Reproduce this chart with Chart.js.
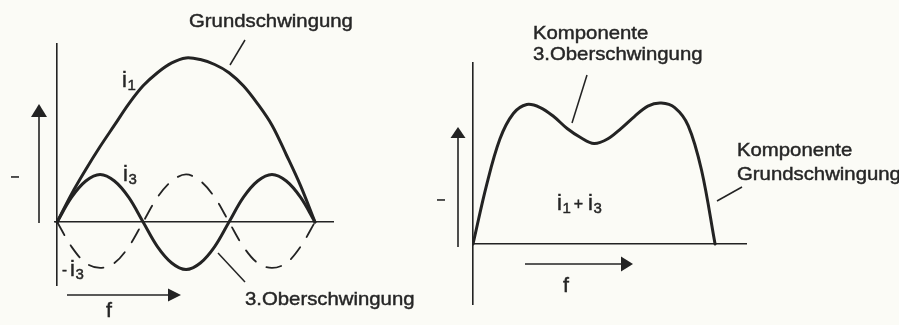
<!DOCTYPE html>
<html>
<head>
<meta charset="utf-8">
<title>Grundschwingung und 3. Oberschwingung</title>
<script src="https://cdn.jsdelivr.net/npm/chart.js@4.4.0/dist/chart.umd.min.js"></script>
<style>
    html, body { margin: 0; padding: 0; background: #fbfbf6; }
    #sheet { position: relative; width: 899px; height: 325px; overflow: hidden; }
    #sheet canvas { position: absolute; left: 0; top: 0; }
</style>
</head>
<body>
<div id="sheet">
    <canvas id="waves" width="899" height="325"></canvas>
    <canvas id="sum" width="899" height="325"></canvas>
</div>
<script>
// phase angle in degrees, one sample every 10 degrees over a half period
var phase = [0, 10, 20, 30, 40, 50, 60, 70, 80, 90, 100, 110, 120, 130, 140, 150, 160, 170, 180];

// fundamental i1 (peak = 1)
var i1 = [0, 0.17, 0.32, 0.46, 0.59, 0.72, 0.83, 0.91, 0.97, 1.00, 0.99, 0.96, 0.91, 0.83, 0.72, 0.59, 0.41, 0.22, 0];
// third harmonic i3 and its inverse
var i3 = [0, 0.15, 0.25, 0.29, 0.25, 0.15, 0, -0.15, -0.25, -0.29, -0.25, -0.15, 0, 0.15, 0.25, 0.29, 0.25, 0.15, 0];
var minusI3 = [0, -0.15, -0.25, -0.28, -0.25, -0.15, 0, 0.15, 0.25, 0.29, 0.25, 0.15, 0, -0.15, -0.25, -0.28, -0.25, -0.15, 0];
// resulting flat-topped wave i1 + i3
var i1PlusI3 = [0, 0.39, 0.70, 0.87, 0.93, 0.91, 0.85, 0.77, 0.71, 0.67, 0.70, 0.77, 0.85, 0.92, 0.94, 0.91, 0.79, 0.49, 0];

var INK = '#232323';
var TEXT = '#262626';
var FONT = '"Liberation Sans", Arial, sans-serif';

function points(values) {
    return phase.map(function (p, k) { return {x: p, y: values[k]}; });
}

function axisScales(xMin, xMax, yMin, yMax) {
    var common = {
        type: 'linear',
        grid: {display: false},
        ticks: {display: false},
        border: {display: true, color: INK, width: 1.6}
    };
    return {
        x: Object.assign({}, common, {min: xMin, max: xMax, position: {y: 0}}),
        y: Object.assign({}, common, {min: yMin, max: yMax, position: {x: 0}})
    };
}

// filled text with a hairline outline so it reads a little heavier
function ink(ctx, str, x, y) {
    ctx.fillStyle = TEXT;
    ctx.strokeStyle = TEXT;
    ctx.lineWidth = 0.45;
    ctx.fillText(str, x, y);
    ctx.strokeText(str, x, y);
}

// text slightly widened like the original typeface
function label(ctx, str, x, y, size) {
    ctx.save();
    ctx.font = (size || 19) + 'px ' + FONT;
    ctx.textBaseline = 'alphabetic';
    ctx.translate(x, y);
    ctx.scale(1.07, 1);
    ink(ctx, str, 0, 0);
    ctx.restore();
}

// "i" with a subscript index, returns the x where it ends
function current(ctx, x, y, index) {
    ctx.save();
    ctx.font = '22px ' + FONT;
    ink(ctx, 'i', x, y);
    var w = ctx.measureText('i').width;
    ctx.font = '15px ' + FONT;
    ink(ctx, index, x + w + 0.5, y + 2.5);
    var end = x + w + 0.5 + ctx.measureText(index).width;
    ctx.restore();
    return end;
}

function line(ctx, x1, y1, x2, y2, width) {
    ctx.save();
    ctx.strokeStyle = INK;
    ctx.lineWidth = width || 1.5;
    ctx.beginPath();
    ctx.moveTo(x1, y1);
    ctx.lineTo(x2, y2);
    ctx.stroke();
    ctx.restore();
}

function arrowUp(ctx, x, yFrom, yTip, half, len) {
    line(ctx, x, yFrom, x, yTip + len, 1.6);
    ctx.save();
    ctx.fillStyle = INK;
    ctx.beginPath();
    ctx.moveTo(x, yTip);
    ctx.lineTo(x - half, yTip + len);
    ctx.lineTo(x + half, yTip + len);
    ctx.closePath();
    ctx.fill();
    ctx.restore();
}

function arrowRight(ctx, xFrom, xTip, y, half, len) {
    line(ctx, xFrom, y, xTip - len, y, 1.6);
    ctx.save();
    ctx.fillStyle = INK;
    ctx.beginPath();
    ctx.moveTo(xTip, y);
    ctx.lineTo(xTip - len, y - half);
    ctx.lineTo(xTip - len, y + half);
    ctx.closePath();
    ctx.fill();
    ctx.restore();
}

// axis symbol "I", turned on its side
function currentSymbol(ctx, x, y) {
    ctx.save();
    ctx.fillStyle = TEXT;
    ctx.font = 'bold 11px ' + FONT;
    ctx.textAlign = 'center';
    ctx.textBaseline = 'middle';
    ctx.translate(x, y);
    ctx.rotate(-Math.PI / 2);
    ctx.fillText('I', 0, 0);
    ctx.restore();
}

var wavesNotes = {
    id: 'wavesNotes',
    afterDraw: function (chart) {
        var ctx = chart.ctx;
        label(ctx, 'Grundschwingung', 189, 27);
        line(ctx, 245, 40, 230, 65);
        current(ctx, 122, 87, '1');
        current(ctx, 123, 181, '3');
        ctx.save();
        ctx.font = '15px ' + FONT;
        ink(ctx, '-', 62, 275);
        ctx.restore();
        current(ctx, 70, 276, '3');
        line(ctx, 218, 253, 245, 282);
        label(ctx, '3.Oberschwingung', 245, 305);
        currentSymbol(ctx, 16, 177);
        arrowUp(ctx, 39, 223, 104, 8, 13);
        arrowRight(ctx, 67, 181, 295, 6.5, 13);
        label(ctx, 'f', 106, 317, 20);
    }
};

var sumNotes = {
    id: 'sumNotes',
    afterDraw: function (chart) {
        var ctx = chart.ctx;
        label(ctx, 'Komponente', 533, 39);
        label(ctx, '3.Oberschwingung', 533, 60);
        line(ctx, 587, 75, 572, 123);
        label(ctx, 'Komponente', 737, 156);
        label(ctx, 'Grundschwingung', 737, 180);
        line(ctx, 742, 187, 717, 201);
        var x = current(ctx, 557, 210, '1');
        ctx.save();
        ctx.font = '16px ' + FONT;
        ink(ctx, '+', x + 3, 209);
        ctx.restore();
        current(ctx, 588, 210, '3');
        currentSymbol(ctx, 442, 200);
        arrowUp(ctx, 458, 247, 127, 7.5, 11);
        arrowRight(ctx, 525, 633, 264, 7.5, 12);
        label(ctx, 'f', 563, 292, 20);
    }
};

var baseOptions = {
    responsive: false,
    animation: false,
    events: [],
    plugins: {legend: {display: false}, tooltip: {enabled: false}},
    elements: {point: {radius: 0}, line: {tension: 0.35, borderCapStyle: 'round', borderJoinStyle: 'round'}}
};

new Chart(document.getElementById('waves'), {
    type: 'line',
    data: {
        datasets: [
            {label: 'i1', data: points(i1), borderColor: INK, borderWidth: 3},
            {label: 'i3', data: points(i3), borderColor: INK, borderWidth: 3},
            {label: '-i3', data: points(minusI3), borderColor: INK, borderWidth: 1.8, borderDash: [15, 12]}
        ]
    },
    options: Object.assign({}, baseOptions, {
        layout: {padding: {left: 55, top: 44, right: 566, bottom: 40}},
        scales: axisScales(-1.5, 192.6, -0.384, 1.085)
    }),
    plugins: [wavesNotes]
});

new Chart(document.getElementById('sum'), {
    type: 'line',
    data: {
        datasets: [
            {label: 'i1 + i3', data: points(i1PlusI3), borderColor: INK, borderWidth: 3}
        ]
    },
    options: Object.assign({}, baseOptions, {
        layout: {padding: {left: 473, top: 63, right: 153, bottom: 21}},
        scales: axisScales(0, 203, -0.4, 1.207)
    }),
    plugins: [sumNotes]
});
</script>
</body>
</html>
